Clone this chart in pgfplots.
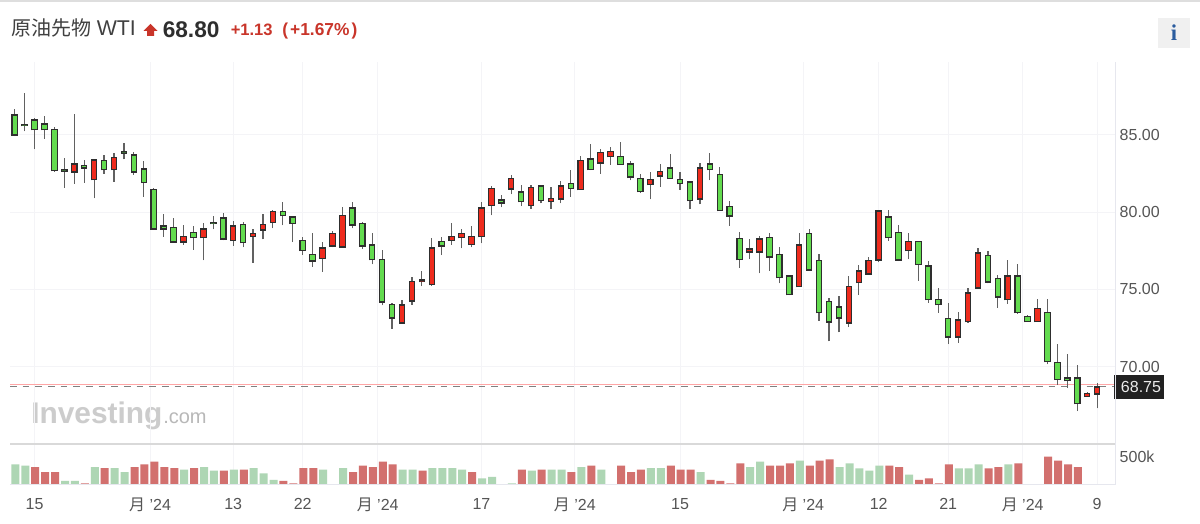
\documentclass[border=0pt]{standalone}
\usepackage{pgfplots}
\pgfplotsset{compat=1.18}
\usepackage{pgfplotstable}
\usepackage{fontspec}
\setmainfont{Liberation Sans}
\newfontfamily\cjk{Noto Sans CJK SC}
\newfontfamily\serifi{Liberation Serif}
\definecolor{cgreen}{HTML}{63DB4F}
\definecolor{cred}{HTML}{EE2B1D}
\definecolor{vgreen}{HTML}{AED6B4}
\definecolor{vred}{HTML}{D2706E}
\definecolor{gridc}{HTML}{F4F4F7}
\definecolor{framec}{HTML}{E6E7EE}
\definecolor{labc}{HTML}{555555}
\definecolor{headr}{HTML}{C9352A}
\definecolor{infob}{HTML}{2B5C9E}
% index high top-of-body bottom-of-body low
\pgfplotstableread{
i hi top bot lo
0 86.66 86.29 85.00 84.93
1 87.74 85.67 85.60 85.23
2 86.12 85.95 85.34 84.07
3 86.23 85.71 85.34 84.74
4 85.54 85.36 82.69 82.62
5 83.49 82.73 82.67 81.57
7 83.38 83.03 82.86 81.91
9 83.70 83.36 82.75 82.49
11 84.48 83.90 83.83 83.42
12 83.90 83.70 82.60 82.41
13 83.31 82.78 81.93 81.01
14 81.55 81.46 78.93 78.85
15 79.91 79.11 78.93 78.40
16 79.65 79.02 78.07 78.01
18 79.13 78.68 78.35 77.58
20 79.78 79.30 79.26 78.89
21 79.97 79.63 78.27 78.18
23 79.34 79.19 78.03 77.73
27 80.64 80.04 79.78 79.15
28 79.71 79.69 79.28 78.07
29 78.37 78.18 77.53 77.25
30 78.63 77.27 76.84 76.47
34 80.64 80.27 79.17 78.96
35 79.34 79.28 77.83 77.64
36 78.63 77.86 76.93 76.63
37 77.55 76.95 74.19 73.97
38 74.10 74.04 73.15 72.46
43 78.37 78.11 77.83 77.23
49 81.11 80.79 80.60 80.31
51 81.78 81.29 80.68 80.40
53 81.78 81.70 80.75 80.57
56 82.71 81.87 81.52 81.00
58 84.39 83.44 82.75 82.73
61 84.56 83.59 83.10 83.08
62 83.29 83.12 82.26 82.06
63 82.49 82.19 81.33 81.24
66 83.75 82.86 82.19 82.17
67 82.58 82.13 81.85 81.46
68 82.02 81.95 80.75 80.23
70 83.81 83.12 82.75 82.06
71 82.90 82.45 80.10 80.08
72 80.75 80.36 79.75 79.13
73 78.72 78.29 76.93 76.39
76 78.63 78.37 77.10 76.22
77 77.73 77.27 75.76 75.40
78 75.96 75.87 74.66 74.64
80 78.89 78.61 76.26 76.24
81 77.29 76.86 73.50 72.98
82 74.42 74.21 72.91 71.64
83 74.55 73.86 73.17 72.22
88 80.14 79.69 78.35 78.16
89 79.15 78.70 76.91 76.84
91 78.13 78.11 76.63 75.57
92 76.86 76.52 74.34 74.14
93 75.07 74.36 74.02 73.50
94 74.12 73.11 71.92 71.47
98 77.47 77.19 75.50 75.40
99 75.96 75.70 74.51 73.82
101 76.65 75.87 73.50 73.43
102 73.35 73.26 72.92 72.90
104 74.38 73.52 70.33 70.15
105 71.47 70.28 69.18 68.82
106 70.80 69.27 69.10 68.64
107 70.13 69.27 67.61 67.13
}\tblG
\pgfplotstableread{
i hi top bot lo
6 86.34 83.12 82.60 81.83
8 83.44 83.38 82.11 80.90
10 83.81 83.53 82.75 81.98
17 79.15 78.44 78.07 77.88
19 79.30 78.93 78.35 76.89
22 79.45 79.11 78.18 77.83
24 78.89 78.61 78.44 76.73
25 79.88 79.19 78.85 78.24
26 80.12 80.04 79.34 78.96
31 78.05 77.70 77.01 76.15
32 78.80 78.61 77.83 77.73
33 80.31 79.78 77.75 77.72
39 74.30 74.01 72.83 72.80
40 75.81 75.52 74.25 74.01
41 76.22 75.61 75.52 75.22
42 78.31 77.70 75.31 75.24
44 79.28 78.44 78.18 77.88
45 78.89 78.63 78.35 77.66
46 79.13 78.44 77.92 77.73
47 80.64 80.27 78.42 77.98
48 81.72 81.52 80.44 79.80
50 82.39 82.19 81.50 81.16
52 81.78 81.61 80.42 80.23
54 81.63 80.88 80.68 80.23
55 82.04 81.70 80.85 80.57
57 83.64 83.36 81.46 81.44
59 84.07 83.85 83.18 82.49
60 84.24 83.94 83.59 83.08
64 82.62 82.13 81.78 80.83
65 83.14 82.62 82.34 81.65
69 83.16 82.86 80.85 80.51
74 78.24 77.62 77.42 76.97
75 78.46 78.26 77.42 76.04
79 78.63 77.88 75.18 75.16
84 75.89 75.18 72.83 72.57
85 76.56 76.19 75.44 74.66
86 77.12 76.86 76.00 75.94
87 80.10 80.06 76.91 76.76
90 78.63 78.11 77.51 76.97
95 73.56 73.02 71.92 71.56
96 75.07 74.77 72.92 72.85
97 77.66 77.36 75.09 75.09
100 76.88 75.87 74.34 74.06
103 74.38 73.78 72.92 72.90
108 68.38 68.28 68.08 68.06
109 68.97 68.69 68.25 67.31
}\tblR
% volume in thousands
\pgfplotstableread{
i v
0 360
1 336
5 60
6 60
8 312
10 294
11 222
17 264
19 312
20 246
22 264
24 294
25 198
26 78
31 264
33 294
39 264
40 264
42 294
43 294
44 294
45 264
47 108
48 132
50 18
52 246
54 264
55 264
57 312
59 264
64 294
65 294
69 222
74 312
75 408
79 426
83 312
84 378
85 288
86 246
87 336
90 174
95 288
96 288
97 360
100 360
}\volG
\pgfplotstableread{
i v
2 312
3 222
4 222
7 18
9 294
12 312
13 360
14 408
15 312
16 294
18 294
21 246
23 264
27 60
28 18
29 294
30 294
34 222
35 336
36 312
37 408
38 360
41 246
46 222
51 264
53 264
56 222
58 336
61 336
62 222
63 264
66 336
67 264
68 264
70 78
71 60
72 18
73 378
76 336
77 336
78 378
80 336
81 426
82 450
88 336
89 312
91 78
92 108
93 18
94 360
98 288
99 312
101 378
104 498
105 426
106 360
107 312
}\volR
\newcommand{\candles}[2]{%
  \addplot[draw=none,mark=none,forget plot,
    error bars/.cd,y dir=plus,y explicit,error mark=none,
    error bar style={line width=0.9pt,color=black!62}]
    table[x=i,y=lo,y error plus expr={\thisrow{hi}-\thisrow{lo}}]{#1};
  \addplot[draw=none,mark=none,forget plot,
    error bars/.cd,y dir=plus,y explicit,error mark=none,
    error bar style={line width=4.9pt,color=black!82}]
    table[x=i,y expr={\thisrow{bot}-0.05},y error plus expr={\thisrow{top}-\thisrow{bot}+0.1}]{#1};
  \addplot[draw=none,mark=none,forget plot,
    error bars/.cd,y dir=plus,y explicit,error mark=none,
    error bar style={line width=3.2pt,color=#2}]
    table[x=i,y expr={\thisrow{bot}+0.05},y error plus expr={max(\thisrow{top}-\thisrow{bot}-0.1,0.001)}]{#1};
}
\begin{document}
\begin{tikzpicture}[x=0.75pt,y=0.75pt,font=\fontsize{12pt}{14pt}\selectfont]
\useasboundingbox (0,0) rectangle (1200,524);
\fill[white] (0,0) rectangle (1200,524);
\fill[black!13] (0,522) rectangle (1200,524);
% header
\node[anchor=base west,inner sep=0,text=black!75,font=\fontsize{15pt}{17pt}\selectfont] at (11,488) {{\cjk 原油先物} {\fontsize{16pt}{17pt}\selectfont WTI}};
\fill[headr] (150.5,500) -- (157.5,493) -- (154,493) -- (154,488) -- (147,488) -- (147,493) -- (143.5,493) -- cycle;
\node[anchor=base west,inner sep=0,text=black!82,font=\bfseries\fontsize{17pt}{19pt}\selectfont] at (162.5,486.5) {68.80};
\node[anchor=base west,inner sep=0,text=headr,font=\bfseries\fontsize{12.4pt}{14pt}\selectfont] at (230.5,488) {+1.13};
\node[anchor=base west,inner sep=0,text=headr,font=\bfseries\fontsize{13pt}{15pt}\selectfont] at (282,488) {(\kern1.6pt+1.67\%\kern1.6pt)};
\fill[black!6] (1158,475.5) rectangle (1190,506);
\node[text=infob,font=\serifi\bfseries\fontsize{17pt}{19pt}\selectfont] at (1174,491) {i};
% watermark
\node[anchor=base west,inner sep=0,text=black!20,font=\bfseries\fontsize{22.4pt}{24pt}\selectfont] at (31,100) {Investing};
\node[anchor=base west,inner sep=0,text=black!28,font=\fontsize{15pt}{17pt}\selectfont] at (163,100) {.com};
\begin{axis}[
  at={(7.5pt,60pt)},anchor=south west,scale only axis,
  width=828.75pt,height=286.5pt,
  xmin=-0.473,xmax=110.8,ymin=65,ymax=89.72,
  axis line style={draw=none},
  clip=true,
  xtick={2,13.63,22,29,36.55,47,56.4,67,79.4,87,94,101.5,109},
  xticklabels={},
  ytick={70,75,80,85},
  yticklabel pos=right,
  yticklabel style={text=labc,/pgf/number format/.cd,fixed,fixed zerofill,precision=2,assume math mode=true},
  ytick style={draw=none},xtick style={draw=none},
  xmajorgrids,ymajorgrids,grid style={gridc,line width=0.75pt},
]
\addplot[forget plot,draw=red!35,line width=0.7pt] coordinates {(-0.473,68.82) (110.8,68.82)};
\addplot[forget plot,draw=black!50,line width=1.1pt,dash pattern=on 5pt off 4.5pt] coordinates {(-0.473,68.72) (110.8,68.72)};
\candles{\tblG}{cgreen}
\candles{\tblR}{cred}
\end{axis}
\fill[black!87] (1114,125) rectangle (1164,149);
\node[text=white!92!black] at (1141,137) {68.75};
\begin{axis}[
  at={(7.5pt,29.775pt)},anchor=south west,scale only axis,
  width=828.75pt,height=30.2pt,
  xmin=-0.473,xmax=110.8,ymin=0,ymax=728,
  axis line style={draw=none},
  xtick={2,13.63,22,29,36.55,47,56.4,67,79.4,87,94,101.5,109},
  xticklabels={15,{\cjk 月} '24,13,22,{\cjk 月} '24,17,{\cjk 月} '24,15,{\cjk 月} '24,12,21,{\cjk 月} '24,9},
  xticklabel style={text=labc,yshift=-7pt},
  ytick={500},
  yticklabels={500k},
  yticklabel pos=right,
  yticklabel style={text=labc},
  ytick style={draw=none},xtick style={draw=none},
  xmajorgrids,ymajorgrids=false,grid style={gridc,line width=0.75pt},
]
\addplot[forget plot,ybar,bar width=6pt,bar shift=0.5pt,draw=none,fill=vgreen] table[x=i,y=v]{\volG};
\addplot[forget plot,ybar,bar width=6pt,bar shift=0.5pt,draw=none,fill=vred] table[x=i,y=v]{\volR};
\end{axis}
% frame
\draw[black!15,line width=1.3pt] (10,80) -- (1115,80);
\draw[framec,line width=1.1pt] (1115.5,80) -- (1115.5,39.7) -- (10,39.7);
\draw[framec,line width=0.9pt] (1115.5,80) -- (1115.5,462);
\end{tikzpicture}
\end{document}
